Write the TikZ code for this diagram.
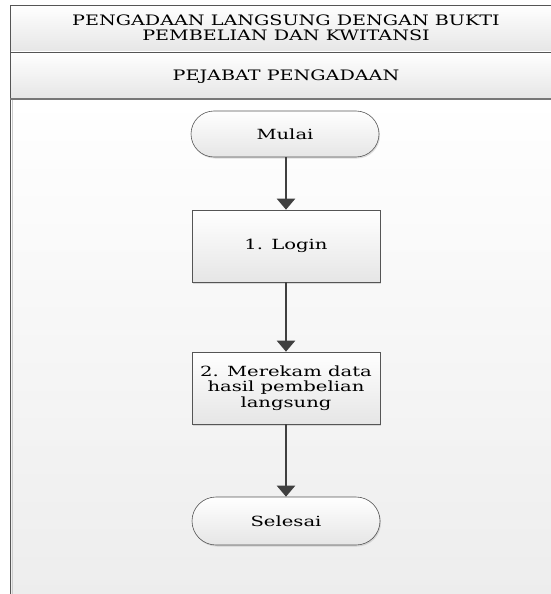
\documentclass[tikz,border=0pt]{standalone}
\usepackage{fontspec}
\setmainfont{DejaVu Serif}
\newfontfamily\bodyfont[FakeStretch=1.4]{DejaVu Serif}
\newfontfamily\headfont[FakeStretch=1.33]{DejaVu Serif}
\usetikzlibrary{arrows.meta,shadows}
\definecolor{lineC}{HTML}{404040}
\definecolor{frameC}{HTML}{555555}
\tikzset{
  term/.style={draw=frameC, line width=0.6pt, rounded corners=23pt, minimum width=188pt, minimum height=46pt,
    top color=white, bottom color=white!90!black, drop shadow={shadow xshift=1pt, shadow yshift=-1.5pt, opacity=0.25}, font=\bodyfont\fontsize{14}{15.5}\selectfont},
  proc/.style={draw=frameC, line width=0.6pt, minimum width=188pt, minimum height=72pt, align=center,
    top color=white, bottom color=white!90!black, drop shadow={shadow xshift=1pt, shadow yshift=-1.5pt, opacity=0.25}, font=\bodyfont\fontsize{14}{15.5}\selectfont},
  flow/.style={draw=lineC, line width=2.2pt, -{Triangle[length=11pt,width=18pt]}},
  hdr/.style={font=\headfont\fontsize{14.4}{15}\selectfont, align=center, inner sep=0pt}
}
\begin{document}
\begin{tikzpicture}[x=1pt,y=-1pt]
\useasboundingbox (0,0) rectangle (551,594);
% header backgrounds
\shade[top color=white, bottom color=white!90!black] (10,5) rectangle (551,52);
\shade[top color=white, bottom color=white!90!black] (10,52) rectangle (551,99);
\shade[top color=white, bottom color=white!93!black] (10,99) rectangle (551,594);
% frame lines
\draw[frameC, line width=0.8pt] (10,594) -- (10,5) -- (551,5);
\draw[frameC, line width=0.9pt] (10,52) -- (551,52);
\draw[frameC!80, line width=1.4pt] (10,99) -- (551,99);
\draw[white!80!black, line width=0.8pt] (12,100) -- (12,594);
% header texts
\node[hdr] (title) at (286,28) {PENGADAAN LANGSUNG DENGAN BUKTI\\PEMBELIAN DAN KWITANSI};
\node[hdr] (lane) at (286,77) {PEJABAT PENGADAAN};
% flow
\node[term] (mulai) at (285,134) {Mulai};
\node[proc] (login) at (286,246) {1. Login};
\node[proc, inner sep=1pt] (rekam) at (286,388) {2. Merekam data\\hasil pembelian\\langsung};
\node[term, minimum height=48pt, rounded corners=24pt] (selesai) at (286,521) {Selesai};
\draw[flow] (mulai.south -| login.north) -- (login.north);
\draw[flow] (login) -- (rekam);
\draw[flow] (rekam) -- (selesai);
\end{tikzpicture}
\end{document}
